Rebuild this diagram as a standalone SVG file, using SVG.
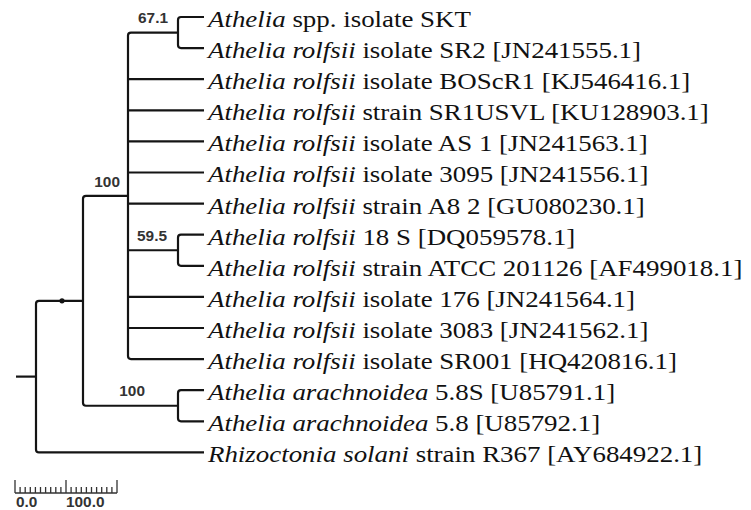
<svg xmlns="http://www.w3.org/2000/svg" width="751" height="510" viewBox="0 0 751 510">
<style>
.br{fill:none;stroke:#141414;stroke-width:2.2;stroke-linecap:butt;stroke-linejoin:round}
.lf{font-family:"Liberation Serif","Times New Roman",serif;font-size:23px;fill:#111}
.it{font-style:italic}
.bs{font-family:"Liberation Sans",Arial,sans-serif;font-weight:bold;font-size:14px;fill:#333;text-anchor:end}
.sc{font-family:"Liberation Sans",Arial,sans-serif;font-weight:bold;font-size:14px;fill:#333}
.tk{stroke:#333;stroke-width:1.3}
</style>
<rect width="751" height="510" fill="#fff"/>
<g id="connectors">
<path class="br" d="M16,376.6 H36"/>
<path class="br" d="M83,300.8 H39 Q36,300.8 36,303.8 V449.4 Q36,452.4 39,452.4 H204"/>
<path class="br" d="M128,195.8 H86 Q83,195.8 83,198.8 V402.75 Q83,405.75 86,405.75 H178"/>
<path class="br" d="M178,32.55 H131 Q128,32.55 128,35.55 V356.1 Q128,359.1 131,359.1 H204"/>
<path class="br" d="M128,79.2 H204 M128,110.3 H204 M128,141.4 H204 M128,172.5 H204 M128,203.6 H204 M128,250.25 H178 M128,296.9 H204 M128,328 H204"/>
<path class="br" d="M204,17 H181 Q178,17 178,20 V45.1 Q178,48.1 181,48.1 H204"/>
<path class="br" d="M204,234.7 H181 Q178,234.7 178,237.7 V262.8 Q178,265.8 181,265.8 H204"/>
<path class="br" d="M204,390.2 H181 Q178,390.2 178,393.2 V418.3 Q178,421.3 181,421.3 H204"/>
<circle cx="62" cy="300.8" r="2.6" fill="#141414"/>
</g>
<g id="support-labels">
<text class="bs" x="0" y="23" transform="matrix(1.1 0 0 1 168 0)">67.1</text>
<text class="bs" x="0" y="187" transform="matrix(1.1 0 0 1 120 0)">100</text>
<text class="bs" x="0" y="241" transform="matrix(1.1 0 0 1 167 0)">59.5</text>
<text class="bs" x="0" y="396" transform="matrix(1.1 0 0 1 145 0)">100</text>
</g>
<g id="leaf-SKT"><text class="lf" x="0" y="27" transform="matrix(1.17 0 0 1 208 0)"><tspan class="it">Athelia</tspan> spp. isolate SKT</text></g>
<g id="leaf-SR2"><text class="lf" x="0" y="58.1" transform="matrix(1.17 0 0 1 208 0)"><tspan class="it">Athelia rolfsii</tspan> isolate SR2 [JN241555.1]</text></g>
<g id="leaf-BOScR1"><text class="lf" x="0" y="89.2" transform="matrix(1.17 0 0 1 208 0)"><tspan class="it">Athelia rolfsii</tspan> isolate BOScR1 [KJ546416.1]</text></g>
<g id="leaf-SR1USVL"><text class="lf" x="0" y="120.3" transform="matrix(1.17 0 0 1 208 0)"><tspan class="it">Athelia rolfsii</tspan> strain SR1USVL [KU128903.1]</text></g>
<g id="leaf-AS1"><text class="lf" x="0" y="151.4" transform="matrix(1.17 0 0 1 208 0)"><tspan class="it">Athelia rolfsii</tspan> isolate AS 1 [JN241563.1]</text></g>
<g id="leaf-3095"><text class="lf" x="0" y="182.5" transform="matrix(1.17 0 0 1 208 0)"><tspan class="it">Athelia rolfsii</tspan> isolate 3095 [JN241556.1]</text></g>
<g id="leaf-A82"><text class="lf" x="0" y="213.6" transform="matrix(1.17 0 0 1 208 0)"><tspan class="it">Athelia rolfsii</tspan> strain A8 2 [GU080230.1]</text></g>
<g id="leaf-18S"><text class="lf" x="0" y="244.7" transform="matrix(1.17 0 0 1 208 0)"><tspan class="it">Athelia rolfsii</tspan> 18 S [DQ059578.1]</text></g>
<g id="leaf-ATCC"><text class="lf" x="0" y="275.8" transform="matrix(1.17 0 0 1 208 0)"><tspan class="it">Athelia rolfsii</tspan> strain ATCC 201126 [AF499018.1]</text></g>
<g id="leaf-176"><text class="lf" x="0" y="306.9" transform="matrix(1.17 0 0 1 208 0)"><tspan class="it">Athelia rolfsii</tspan> isolate 176 [JN241564.1]</text></g>
<g id="leaf-3083"><text class="lf" x="0" y="338" transform="matrix(1.17 0 0 1 208 0)"><tspan class="it">Athelia rolfsii</tspan> isolate 3083 [JN241562.1]</text></g>
<g id="leaf-SR001"><text class="lf" x="0" y="369.1" transform="matrix(1.17 0 0 1 208 0)"><tspan class="it">Athelia rolfsii</tspan> isolate SR001 [HQ420816.1]</text></g>
<g id="leaf-U85791"><text class="lf" x="0" y="400.2" transform="matrix(1.17 0 0 1 208 0)"><tspan class="it">Athelia arachnoidea</tspan> 5.8S [U85791.1]</text></g>
<g id="leaf-U85792"><text class="lf" x="0" y="431.3" transform="matrix(1.17 0 0 1 208 0)"><tspan class="it">Athelia arachnoidea</tspan> 5.8 [U85792.1]</text></g>
<g id="leaf-R367"><text class="lf" x="0" y="462.4" transform="matrix(1.17 0 0 1 208 0)"><tspan class="it">Rhizoctonia solani</tspan> strain R367 [AY684922.1]</text></g>
<g id="scale-bar">
<path class="tk" d="M15,493 H117 M15,480 V493 M66,480 V493 M117,480 V493 M20.1,487 V493 M25.2,487 V493 M30.3,487 V493 M35.4,487 V493 M40.5,487 V493 M45.6,487 V493 M50.7,487 V493 M55.8,487 V493 M60.9,487 V493 M71.1,487 V493 M76.2,487 V493 M81.3,487 V493 M86.4,487 V493 M91.5,487 V493 M96.6,487 V493 M101.7,487 V493 M106.8,487 V493 M111.9,487 V493"/>
<text class="sc" x="0" y="507" transform="matrix(1.1 0 0 1 16 0)">0.0</text>
<text class="sc" x="0" y="507" transform="matrix(1.1 0 0 1 66 0)">100.0</text>
</g>
</svg>
